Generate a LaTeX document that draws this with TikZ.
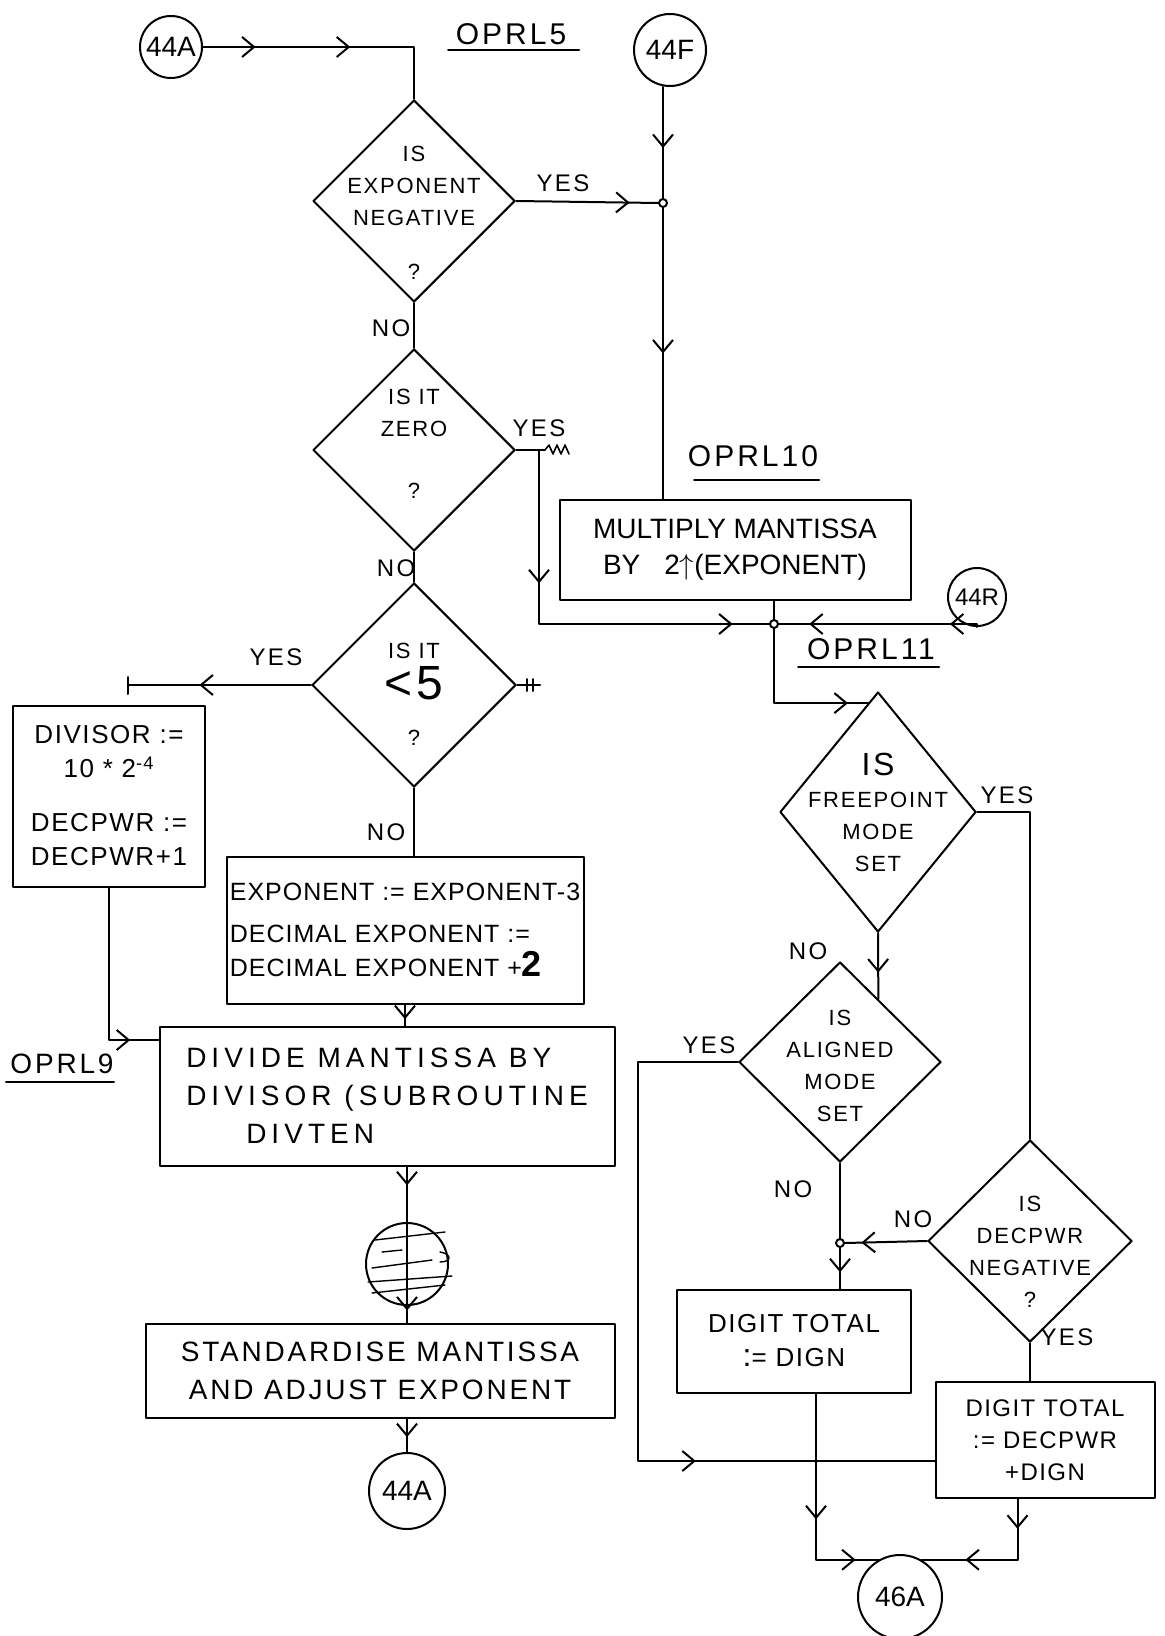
\documentclass[tikz,border=0pt]{standalone}
\usepackage{fontspec}
\setmainfont{Liberation Sans}
\usetikzlibrary{shapes.geometric,arrows.meta,decorations.markings,calc}
\newcommand\myBox{\fontsize{13}{17}\selectfont\addfontfeature{LetterSpace=6}}
\newcommand\myWide{\fontsize{14}{19}\selectfont\addfontfeature{LetterSpace=18}}
\newcommand\myStd{\fontsize{14}{19}\selectfont\addfontfeature{LetterSpace=10}}
\newcommand\myDia{\fontsize{11}{16}\selectfont\addfontfeature{LetterSpace=8}}
\newcommand\myLbl{\fontsize{12}{14}\selectfont\addfontfeature{LetterSpace=10}}
\newcommand\myTtl{\fontsize{15}{18}\selectfont\addfontfeature{LetterSpace=10}}
\newcommand\myCn{\fontsize{14}{16}\selectfont}
\tikzset{
  hand/.tip={Straight Barb[length=6pt,width=10pt,line width=1pt]},
  marr/.style={postaction={decorate,decoration={markings,mark=at position #1 with {\arrow{hand}}}}},
  box/.style={draw,rectangle,inner sep=0pt,font=\myBox,align=center},
  dia/.style={draw,diamond,inner sep=0pt},
  conn/.style={draw,circle,inner sep=0pt,font=\myCn},
  jn/.style={draw,circle,inner sep=0pt,minimum size=4pt,fill=white},
  dtxt/.style={inner sep=0pt,font=\myDia,align=center},
  lbl/.style={inner sep=0pt,font=\myLbl},
  ttl/.style={inner sep=0pt,font=\myTtl},
}
\begin{document}
\begin{tikzpicture}[x=0.5pt,y=-0.5pt,line width=1pt,line cap=round,line join=round]
\fill[white] (0,0) rectangle (1164,1636);
\useasboundingbox (0,0) rectangle (1164,1636);

% connector circles
\node[conn,minimum size=31pt] (c44a) at (171,47) {44A};
\node[conn,minimum size=36pt] (c44f) at (670,50) {44F};
\node[conn,minimum size=29pt,font=\fontsize{12}{14}\selectfont] (c44r) at (977,597) {44R};
\node[conn,minimum size=38pt] (c44ab) at (407,1491) {44A};
\node[conn,minimum size=42pt] (c46a) at (900,1597) {46A};
\node[draw,circle,inner sep=0pt,minimum size=41pt] (scr) at (407,1264) {};

% junctions
\node[jn] (j1) at (663,203) {};
\node[jn] (j2) at (774,624) {};
\node[jn] (j3) at (840,1243) {};

% decisions
\node[dia,minimum width=101pt,minimum height=101pt] (d1) at (414,201) {};
\node[dia,minimum width=101pt,minimum height=101pt] (d2) at (414,450) {};
\node[dia,minimum width=102pt,minimum height=102pt] (d3) at (414,685) {};
\node[dia,minimum width=98pt,minimum height=120pt] (d4) at (878,812) {};
\node[dia,minimum width=101pt,minimum height=100pt] (d5) at (840,1062) {};
\node[dia,minimum width=102pt,minimum height=101pt] (d6) at (1030,1241) {};

\node[dtxt] (t1) at (414,213) {IS\\EXPONENT\\NEGATIVE\\[11pt]?};
\node[dtxt] (t2) at (414,444) {IS IT\\ZERO\\[15pt]?};
\node[dtxt] (t3) at (414,694) {IS IT\\[3pt]{\fontsize{24}{24}\selectfont <5}\\[7pt]?};
\node[dtxt] (t4) at (878,812) {{\fontsize{16}{16}\selectfont IS}\\FREEPOINT\\MODE\\SET};
\node[dtxt] (t5) at (840,1066) {IS\\ALIGNED\\MODE\\SET};
\node[dtxt] (t6) at (1030,1252) {IS\\DECPWR\\NEGATIVE\\?};

% boxes
\node[box,minimum width=96pt,minimum height=90.5pt] (b1) at (109,796)
  {DIVISOR :=\\10 * 2\textsuperscript{-4}\\[10pt]DECPWR :=\\DECPWR+1};
\node[box,minimum width=178.5pt,minimum height=73.5pt,align=left,font=\fontsize{12.5}{17}\selectfont\addfontfeature{LetterSpace=4}] (b2) at (405,930)
  {EXPONENT := EXPONENT-3\\[4pt]DECIMAL EXPONENT :=\\DECIMAL EXPONENT +{\fontsize{18}{18}\selectfont\bfseries 2}};
\node[box,minimum width=227.5pt,minimum height=69.5pt,align=left,font=\myWide] (b3) at (387,1096)
  {DIVIDE MANTISSA BY\\DIVISOR (SUBROUTINE\\\hspace*{30pt}DIVTEN};
\node[box,minimum width=234.5pt,minimum height=47pt,font=\myStd] (b4) at (380,1371)
  {STANDARDISE MANTISSA\\AND ADJUST EXPONENT};
\node[box,minimum width=175.5pt,minimum height=50pt,font=\fontsize{14}{18}\selectfont] (b5) at (735,550)
  {MULTIPLY MANTISSA\\BY\hspace{12pt}2$\uparrow$(EXPONENT)};
\node[box,minimum width=117pt,minimum height=51.5pt] (b6) at (794,1341)
  {DIGIT TOTAL\\{\fontsize{16}{16}\selectfont:}= DIGN};
\node[box,minimum width=109.5pt,minimum height=58pt,font=\fontsize{12}{16}\selectfont\addfontfeature{LetterSpace=6}] (b7) at (1045,1440)
  {DIGIT TOTAL\\:= DECPWR\\+DIGN};

% titles
\node[ttl] (o5) at (511,34) {OPRL5};
\node[ttl] (o10) at (753,456) {OPRL10};
\node[ttl] (o11) at (871,649) {OPRL11};
\node[ttl,font=\fontsize{14}{16}\selectfont\addfontfeature{LetterSpace=10}] (o9) at (62,1064) {OPRL9};
\draw ($(o5)+(-63,16)$) -- ($(o5)+(68,16)$);
\draw ($(o10)+(-59,24)$) -- ($(o10)+(66,24)$);
\draw ($(o11)+(-73,18)$) -- ($(o11)+(68,18)$);
\draw ($(o9)+(-56,18)$) -- ($(o9)+(52,18)$);

% branch labels
\node[lbl] (y1) at (563,183) {YES};
\node[lbl] (n1) at (391,328) {NO};
\node[lbl] (y2l) at (539,428) {YES};
\node[lbl] (n2) at (396,568) {NO};
\node[lbl] (y3) at (276,657) {YES};
\node[lbl] (n3) at (386,832) {NO};
\node[lbl] (y4) at (1007,795) {YES};
\node[lbl] (n4) at (808,951) {NO};
\node[lbl] (y5) at (709,1045) {YES};
\node[lbl] (n5) at (793,1189) {NO};
\node[lbl] (n6) at (913,1219) {NO};
\node[lbl] (y6) at (1067,1337) {YES};

% connectors
\draw[marr=0.2,marr=0.56] (c44a.east) -| (d1.north);
\draw[marr=0.55] (c44f.south -| j1) -- (j1.north);
\draw[marr=0.8] (d1.east) -- (j1.west);
\draw[marr=0.5] (j1.south) -- (j1 |- b5.north);
\draw (d1.south) -- (d2.north);
\coordinate (y2c) at (539,450);
\draw (d2.east) -- (y2c);
\draw[line width=0.8pt] (y2c) -- ++(6,0) -- ++(4,-5) -- ++(4,9) -- ++(4,-9) -- ++(4,9) -- ++(4,-9) -- ++(4,9);
\draw[marr=0.33,marr=0.91] (y2c) |- (j2.west);
\draw[marr=0.15,marr=0.85] (c44r.south) |- (j2.east);
\draw (b5.south -| j2) -- (j2.north);
\draw[marr=0.88] (j2.south) |- ($(d4.north)!0.1!(d4.west)$);
\draw (d2.south) -- (d3.north);
\coordinate (y3e) at (128,685);
\draw[marr=0.61] (d3.west) -- (y3e);
\draw ($(y3e)+(0,-8)$) -- ($(y3e)+(0,9)$);
\coordinate (d3s) at (540,685);
\draw (d3.east) -- (d3s);
\draw ($(d3.east)+(10,-6)$) -- ++(0,12);
\draw ($(d3.east)+(16,-6)$) -- ++(0,12);
\draw (d3.south) -- (d3.south |- b2.north);
\draw[marr=0.7] (b2.south) -- (b2.south |- b3.north);
\draw[marr=0.86] (b1.south) |- ([yshift=28pt]b3.west);
\draw[marr=0.12,marr=0.92] (b3.south -| scr) -- (b4.north -| scr);
\draw[marr=0.55] (b4.south -| c44ab) -- (c44ab.north);
\draw (d4.east) -| (d6.north);
\draw[marr=0.6] (d4.south) -- ($(d5.north)!0.376!(d5.east)$);
\coordinate (ya) at (638,1461);
\draw[marr=0.7] (d5.west) -| (ya) -- (ya -| b7.west);
\draw (d5.south) -- (j3.north);
\draw[marr=0.6] (j3.south) -- (j3 |- b6.north);
\draw[marr=0.8] (d6.west) -- (j3.east);
\draw (d6.south) -- (d6.south |- b7.north);
\draw[marr=0.55,marr=0.9] ([xshift=11pt]b6.south) |- (c46a.120);
\draw[marr=0.19,marr=0.72] ([xshift=-13.75pt]b7.south) |- (c46a.60);

% scribbles over the crossed-out connector
\draw[line width=0.7pt] (375,1240) -- (445,1232);
\draw[line width=0.7pt] (382,1252) -- (402,1250);
\draw[line width=0.7pt] (372,1268) -- (432,1260);
\draw[line width=0.7pt] (368,1282) -- (452,1276);
\draw[line width=0.7pt] (372,1293) -- (445,1285);
\draw[line width=0.7pt] (440,1252) .. controls (452,1254) and (452,1262) .. (440,1262);
\end{tikzpicture}
\end{document}
